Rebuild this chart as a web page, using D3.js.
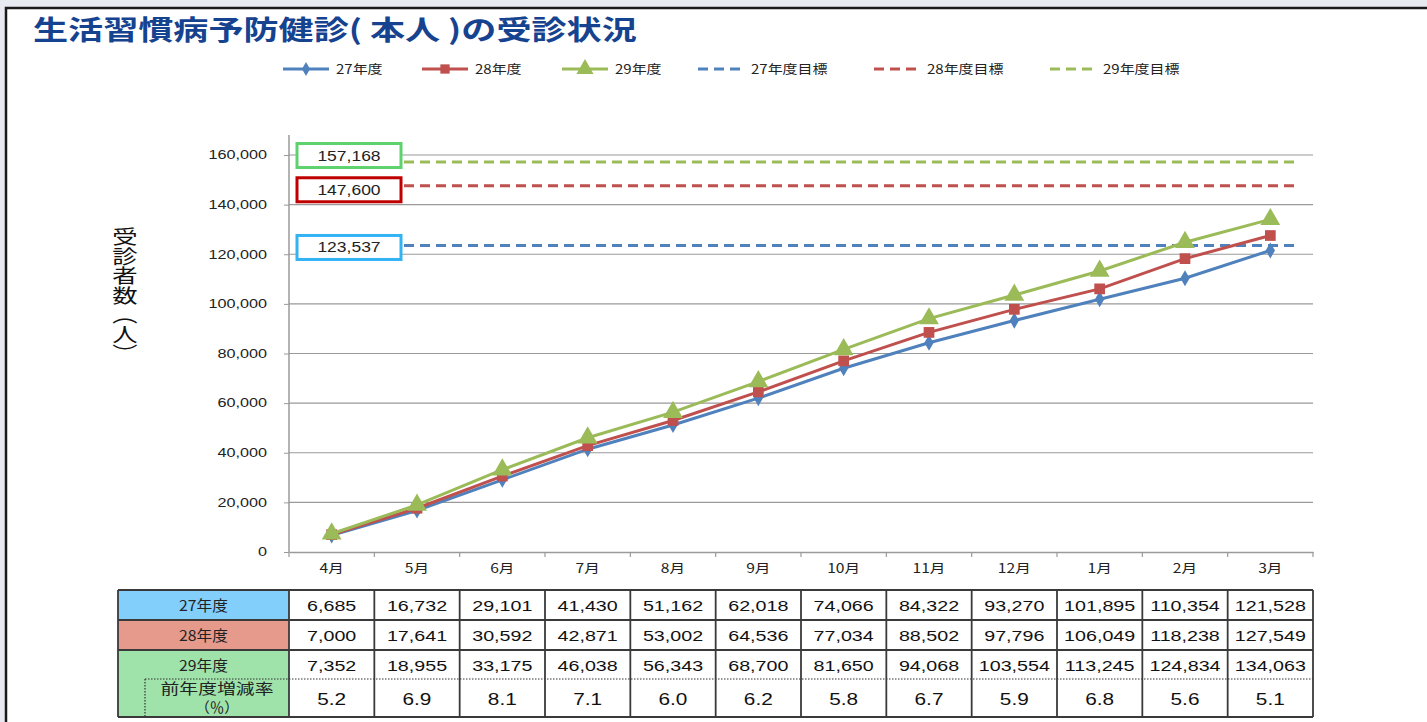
<!DOCTYPE html>
<html>
<head>
<meta charset="utf-8">
<script src="https://cdn.jsdelivr.net/npm/d3@7"></script>
<style>
  html, body { margin: 0; padding: 0; background: #e7eaf0; }
  svg { display: block; }
  .jp { font-family: "Noto Sans CJK JP", "Noto Sans", sans-serif; }
  .num { font-family: "Liberation Sans", Arial, sans-serif; }
</style>
</head>
<body>
<svg id="chart" width="1427" height="722"></svg>
<script>
// Monthly cumulative examinee counts (fiscal years H27–H29)
const months = ["4月","5月","6月","7月","8月","9月","10月","11月","12月","1月","2月","3月"];
const fy27 = [6685,16732,29101,41430,51162,62018,74066,84322,93270,101895,110354,121528];
const fy28 = [7000,17641,30592,42871,53002,64536,77034,88502,97796,106049,118238,127549];
const fy29 = [7352,18955,33175,46038,56343,68700,81650,94068,103554,113245,124834,134063];
const growthRate = [5.2,6.9,8.1,7.1,6.0,6.2,5.8,6.7,5.9,6.8,5.6,5.1];
const seriesNames = ["27年度","28年度","29年度"];
const targetNames = ["27年度目標","28年度目標","29年度目標"];
const targets = [123537,147600,157168];
const yTicks = [0,20000,40000,60000,80000,100000,120000,140000,160000];

const lineColors = ["#4f81bd","#c0504d","#9bbb59"];
const boxColors = ["#33b3f3","#c00000","#5ed26e"];
const rowFills = ["#82cffc","#e69a8c","#9fe2aa"];

const svg = d3.select("#chart");
const fmt = d3.format(",");

// widen glyphs horizontally around their anchor point
function stretch(sel, sx) {
  sel.each(function () {
    const t = d3.select(this);
    const ax = +t.attr("x") || 0, ay = +t.attr("y") || 0;
    t.attr("transform", `translate(${ax},${ay}) scale(${sx},1) translate(${-ax},${-ay})`);
  });
  return sel;
}

// page frame
svg.append("rect").attr("x",6).attr("y",8).attr("width",1440).attr("height",730)
  .attr("fill","#fff").attr("stroke","#1a1a1a").attr("stroke-width",2.5);

// title
svg.append("text").attr("class","jp")
  .attr("x",33).attr("y",40)
  .attr("font-size",27).attr("font-weight",700)
  .attr("fill","#16438f")
  .text("生活習慣病予防健診( 本人 )の受診状況")
  .call(stretch, 1.3);

// scales
const x = d3.scaleBand().domain(months).range([289,1313]);
const y = d3.scaleLinear().domain([0,160000]).range([552,155]);
const cx = m => x(m) + x.bandwidth()/2;

// gridlines
svg.append("g").selectAll("line").data(yTicks.slice(1)).join("line")
  .attr("x1",289).attr("x2",1313)
  .attr("y1",d=>y(d)).attr("y2",d=>y(d))
  .attr("stroke","#9a9a9a").attr("stroke-width",1.2);

// y axis
const yAxis = svg.append("g").attr("transform","translate(289,0)")
  .call(d3.axisLeft(y).tickValues(yTicks).tickFormat(fmt).tickSize(5).tickPadding(17));
yAxis.select(".domain").attr("stroke","#9a9a9a").attr("stroke-width",1.5).attr("d","M0,552V135");
yAxis.selectAll(".tick line").attr("stroke","#9a9a9a");
yAxis.selectAll(".tick text").attr("class","num").attr("font-size",12).attr("fill","#222")
  .call(stretch, 1.35);

// x axis
const xAxis = svg.append("g").attr("transform","translate(0,552)")
  .call(d3.axisBottom(x).tickSize(0).tickPadding(12));
xAxis.select(".domain").attr("stroke","#9a9a9a").attr("stroke-width",1.5);
xAxis.selectAll(".tick text").attr("class","jp").attr("font-size",12.5).attr("fill","#222")
  .call(stretch, 1.25);
svg.append("g").selectAll("line").data(d3.range(months.length + 1)).join("line")
  .attr("x1",i=>289 + i*x.step()).attr("x2",i=>289 + i*x.step())
  .attr("y1",552).attr("y2",557).attr("stroke","#9a9a9a").attr("stroke-width",1.2);

// y axis title (vertical)
svg.append("text").attr("class","jp")
  .attr("x",125).attr("y",227)
  .attr("font-size",19.5).attr("fill","#111")
  .style("writing-mode","vertical-rl")
  .text("受診者数（人）")
  .call(stretch, 1.3);

// target lines with value boxes
const boxOffsets = [2,4,-6.5];
targets.forEach((t,i)=>{
  svg.append("line")
    .attr("x1",404).attr("x2",1300)
    .attr("y1",y(t)).attr("y2",y(t))
    .attr("stroke",lineColors[i]).attr("stroke-width",3)
    .attr("stroke-dasharray","10,6");
  const cy = y(t) + boxOffsets[i];
  svg.append("rect").attr("x",297).attr("y",cy-12).attr("width",104).attr("height",24)
    .attr("fill","#fff").attr("stroke",boxColors[i]).attr("stroke-width",3);
  svg.append("text").attr("class","num")
    .attr("x",349).attr("y",cy+5).attr("text-anchor","middle")
    .attr("font-size",14).attr("fill","#222").text(fmt(t))
    .call(stretch, 1.25);
});

// series lines and markers
const series = [fy27,fy28,fy29];
const symbols = [d3.symbolDiamond, d3.symbolSquare, d3.symbolTriangle];
const symSizes = [75, 115, 170];
const line = d3.line().x((d,i)=>cx(months[i])).y(d=>y(d));
series.forEach((s,k)=>{
  svg.append("path").datum(s).attr("d",line)
    .attr("fill","none").attr("stroke",lineColors[k]).attr("stroke-width",3);
  svg.append("g").selectAll("path").data(s).join("path")
    .attr("transform",(d,i)=>`translate(${cx(months[i])},${y(d)})`)
    .attr("d",d3.symbol().type(symbols[k]).size(symSizes[k]))
    .attr("fill",lineColors[k]);
});

// legend
const legendX = [283,422,562,698,874,1050];
const legendY = 69;
seriesNames.forEach((n,k)=>{
  const g = svg.append("g").attr("transform",`translate(${legendX[k]},${legendY})`);
  g.append("line").attr("x1",0).attr("x2",46).attr("stroke",lineColors[k]).attr("stroke-width",3);
  g.append("path").attr("transform","translate(23,0)")
    .attr("d",d3.symbol().type(symbols[k]).size(symSizes[k]*0.75)).attr("fill",lineColors[k]);
  g.append("text").attr("class","jp").attr("x",53).attr("y",5)
    .attr("font-size",12.5).attr("fill","#222").text(n).call(stretch, 1.2);
});
targetNames.forEach((n,k)=>{
  const g = svg.append("g").attr("transform",`translate(${legendX[k+3]},${legendY})`);
  g.append("line").attr("x1",0).attr("x2",46).attr("stroke",lineColors[k]).attr("stroke-width",3)
    .attr("stroke-dasharray","10,6");
  g.append("text").attr("class","jp").attr("x",53).attr("y",5)
    .attr("font-size",12.5).attr("fill","#222").text(n).call(stretch, 1.2);
});

// data table
const tLeft = 118, tLabelRight = 289, tRight = 1313;
const rowY = [590,620,650,679,717];
const tbl = svg.append("g");
// label cells
tbl.append("rect").attr("x",tLeft).attr("y",rowY[0]).attr("width",tLabelRight-tLeft).attr("height",rowY[1]-rowY[0]).attr("fill",rowFills[0]);
tbl.append("rect").attr("x",tLeft).attr("y",rowY[1]).attr("width",tLabelRight-tLeft).attr("height",rowY[2]-rowY[1]).attr("fill",rowFills[1]);
tbl.append("rect").attr("x",tLeft).attr("y",rowY[2]).attr("width",tLabelRight-tLeft).attr("height",rowY[4]-rowY[2]).attr("fill",rowFills[2]);
// dotted sub-row
tbl.append("line").attr("x1",145).attr("x2",tRight).attr("y1",rowY[3]).attr("y2",rowY[3])
  .attr("stroke","#333").attr("stroke-width",1.2).attr("stroke-dasharray","1.5,1.5");
tbl.append("line").attr("x1",145).attr("x2",145).attr("y1",rowY[3]).attr("y2",rowY[4])
  .attr("stroke","#333").attr("stroke-width",1.2).attr("stroke-dasharray","1.5,1.5");
// solid grid
const hLines = [rowY[0],rowY[1],rowY[2],rowY[4]];
tbl.selectAll("line.h").data(hLines).join("line").attr("class","h")
  .attr("x1",tLeft).attr("x2",tRight).attr("y1",d=>d).attr("y2",d=>d)
  .attr("stroke","#3a3a3a").attr("stroke-width",1.8);
const vLines = [tLeft, tLabelRight].concat(months.map(m=>x(m)+x.bandwidth()));
tbl.selectAll("line.v").data(vLines).join("line").attr("class","v")
  .attr("x1",d=>d).attr("x2",d=>d).attr("y1",rowY[0]).attr("y2",rowY[4])
  .attr("stroke","#3a3a3a").attr("stroke-width",1.8);

// row labels
const labelCx = (tLeft + tLabelRight)/2;
seriesNames.forEach((n,k)=>{
  tbl.append("text").attr("class","jp").attr("x",labelCx).attr("y",rowY[k]+21)
    .attr("text-anchor","middle").attr("font-size",15).attr("fill","#222").text(n)
    .call(stretch, 1.05);
});
tbl.append("text").attr("class","jp").attr("x",217).attr("y",rowY[3]+15)
  .attr("text-anchor","middle").attr("font-size",14.5).attr("fill","#222").text("前年度増減率")
  .call(stretch, 1.3);
tbl.append("text").attr("class","jp").attr("x",217).attr("y",rowY[3]+34)
  .attr("text-anchor","middle").attr("font-size",14.5).attr("fill","#222").text("（％）");

// values
series.forEach((s,k)=>{
  tbl.append("g").selectAll("text").data(s).join("text").attr("class","num")
    .attr("x",(d,i)=>cx(months[i])).attr("y",rowY[k]+21)
    .attr("text-anchor","middle").attr("font-size",15.5).attr("fill","#111")
    .text(d=>fmt(d))
    .call(stretch, 1.27);
});
tbl.append("g").selectAll("text").data(growthRate).join("text").attr("class","num")
  .attr("x",(d,i)=>cx(months[i])).attr("y",rowY[3]+26)
  .attr("text-anchor","middle").attr("font-size",16).attr("fill","#111")
  .text(d=>d.toFixed(1))
  .call(stretch, 1.3);
</script>
</body>
</html>
